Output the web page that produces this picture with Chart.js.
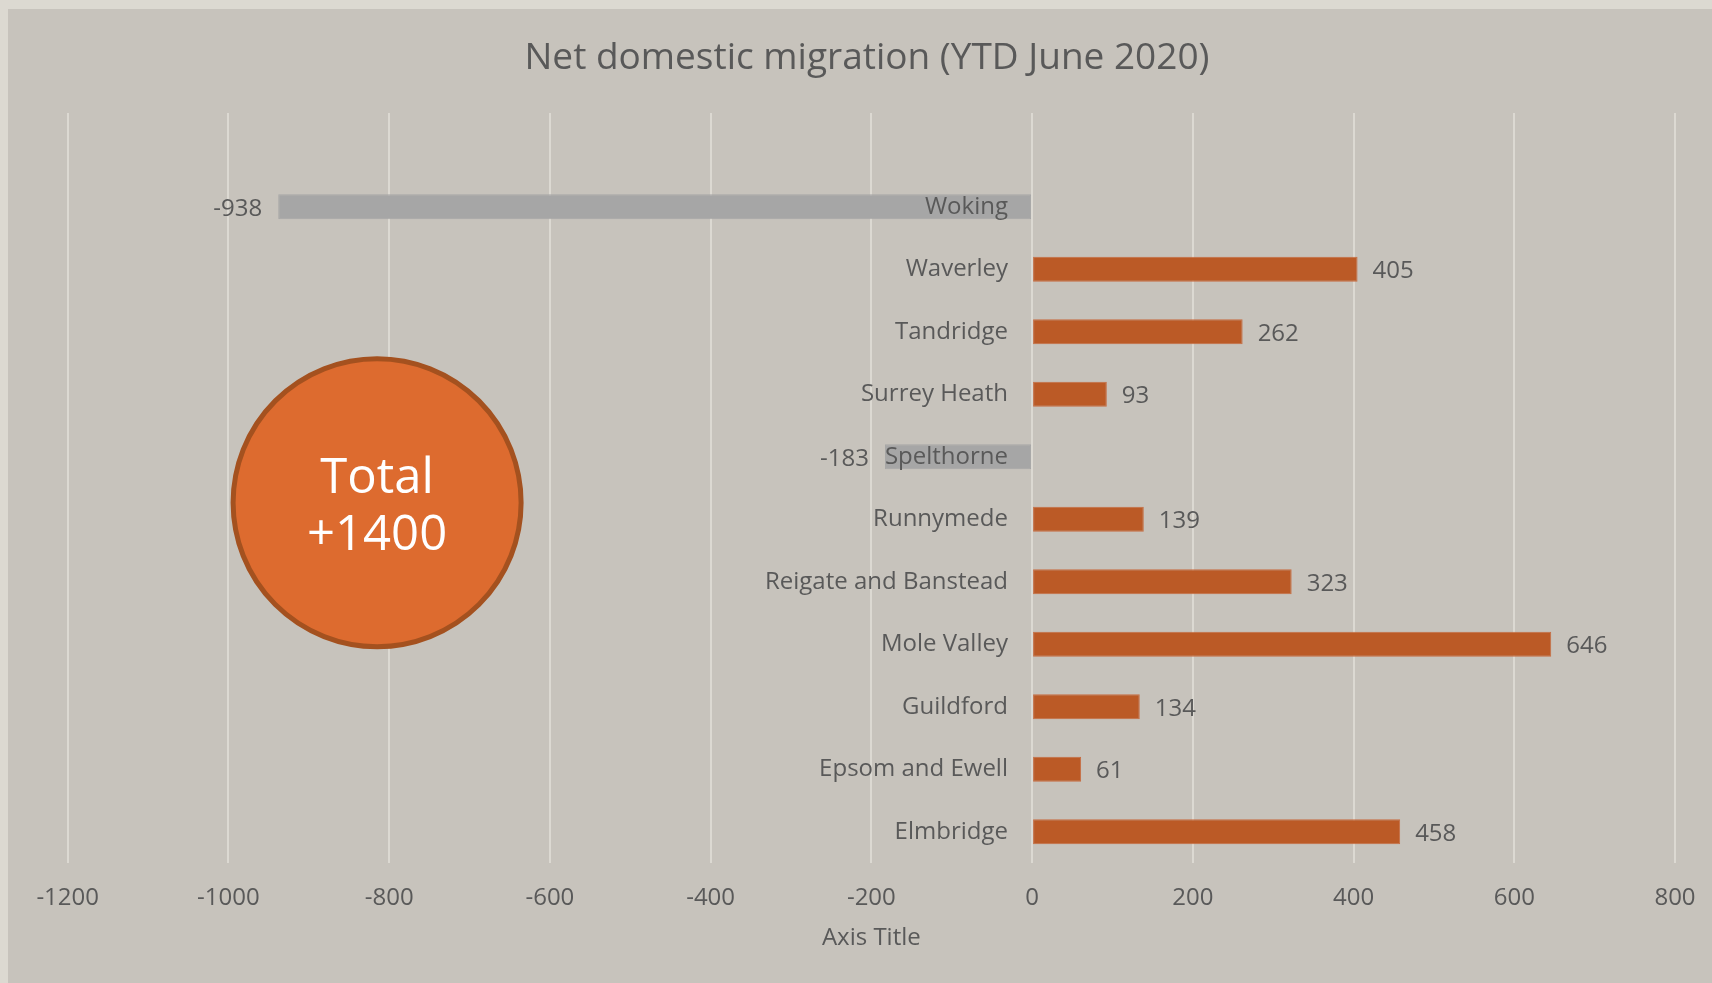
<!DOCTYPE html>
<html>
<head>
<meta charset="utf-8">
<title>Net domestic migration (YTD June 2020)</title>
<script src="https://cdn.jsdelivr.net/npm/chart.js@4.4.1/dist/chart.umd.min.js"></script>
<style>
  html, body { margin: 0; padding: 0; background: #dcd9d1; overflow: hidden; }
  #wrap { position: absolute; left: 8px; top: 9px; width: 1704px; height: 974px; background: #c7c3bc; }
</style>
</head>
<body>
<div id="wrap"><canvas id="chart"></canvas></div>
<script>
// Surrey districts, listed bottom-to-top; the trailing blank slot leaves headroom above Woking.
const districts = ['Elmbridge', 'Epsom and Ewell', 'Guildford', 'Mole Valley', 'Reigate and Banstead',
                   'Runnymede', 'Spelthorne', 'Surrey Heath', 'Tandridge', 'Waverley', 'Woking', ''];
const netMigration = [458, 61, 134, 646, 323, 139, -183, 93, 262, 405, -938, null];
const xTickValues = [-1200, -1000, -800, -600, -400, -200, 0, 200, 400, 600, 800];

const chartTitle = 'Net domestic migration (YTD June 2020)';
const xAxisTitle = 'Axis Title';

const FONT = '"Open Sans", "Noto Sans", sans-serif';
const TEXT = '#595959';
const ORANGE = '#bb5a26';
const GREY = '#a6a6a6';

const total = netMigration.reduce((s, v) => s + (v ?? 0), 0);
const totalLines = ['Total', (total >= 0 ? '+' : '') + total];

// Value labels beside each bar end
const valueLabels = {
  id: 'valueLabels',
  afterDatasetsDraw(chart) {
    const ctx = chart.ctx;
    const meta = chart.getDatasetMeta(0);
    ctx.save();
    ctx.font = '24px ' + FONT;
    ctx.fillStyle = TEXT;
    ctx.textBaseline = 'middle';
    meta.data.forEach((bar, i) => {
      const v = netMigration[i];
      if (v === null || v === undefined) return;
      if (v >= 0) {
        ctx.textAlign = 'left';
        ctx.fillText(String(v), bar.x + 15, bar.y + 2);
      } else {
        ctx.textAlign = 'right';
        ctx.fillText(String(v), bar.x - 16, bar.y + 2);
      }
    });
    ctx.restore();
  }
};

// Round call-out holding the overall total
const totalBadge = {
  id: 'totalBadge',
  afterDraw(chart) {
    const { ctx, chartArea, scales } = chart;
    const cx = scales.x.getPixelForValue(-815);
    const cy = chartArea.top + chartArea.height * 0.5196;
    const r = 144;
    ctx.save();
    ctx.beginPath();
    ctx.arc(cx, cy, r, 0, Math.PI * 2);
    ctx.fillStyle = '#dd6b2f';
    ctx.fill();
    ctx.lineWidth = 5;
    ctx.strokeStyle = '#a4511f';
    ctx.stroke();
    ctx.fillStyle = '#ffffff';
    ctx.font = '49px ' + FONT;
    ctx.textAlign = 'center';
    ctx.textBaseline = 'alphabetic';
    ctx.fillText(totalLines[0], cx, cy - 9.7);
    ctx.fillText(totalLines[1], cx, cy + 47.3);
    ctx.restore();
  }
};

new Chart(document.getElementById('chart'), {
  type: 'bar',
  data: {
    labels: districts,
    datasets: [{
      data: netMigration,
      backgroundColor: netMigration.map(v => (v !== null && v < 0) ? GREY : ORANGE),
      borderColor: netMigration.map(v => (v !== null && v < 0) ? GREY : '#c66d42'),
      borderWidth: 1,
      borderSkipped: false,
      categoryPercentage: 1,
      barPercentage: 0.4
    }]
  },
  options: {
    indexAxis: 'y',
    responsive: true,
    maintainAspectRatio: false,
    animation: false,
    layout: { padding: { left: 51, right: 37, top: 0, bottom: 26.6 } },
    plugins: {
      legend: { display: false },
      tooltip: { enabled: false },
      title: {
        display: true,
        text: chartTitle,
        color: TEXT,
        font: { family: FONT, size: 37, weight: 'normal' },
        padding: { top: 27.1, bottom: 32.5 }
      }
    },
    scales: {
      x: {
        type: 'linear',
        min: xTickValues[0],
        max: xTickValues[xTickValues.length - 1],
        afterBuildTicks(scale) { scale.ticks = xTickValues.map(v => ({ value: v })); },
        afterFit(scale) {
          scale.paddingLeft = 59.7;
          scale.paddingRight = 37;
        },
        grid: { color: '#dcd9d2', lineWidth: 2, drawTicks: false },
        border: { display: false },
        ticks: {
          color: TEXT,
          font: { family: FONT, size: 24 },
          padding: 21.2,
          callback: v => String(v)
        },
        title: {
          display: true,
          text: xAxisTitle,
          color: TEXT,
          font: { family: FONT, size: 24 },
          padding: { top: -10.6, bottom: 4 }
        }
      },
      y: {
        type: 'category',
        position: { x: -30 },
        reverse: true,
        grid: { display: false, drawTicks: false },
        border: { display: false },
        ticks: { color: TEXT, font: { family: FONT, size: 24 }, padding: 0, z: 1 }
      }
    }
  },
  plugins: [valueLabels, totalBadge]
});
</script>
</body>
</html>
